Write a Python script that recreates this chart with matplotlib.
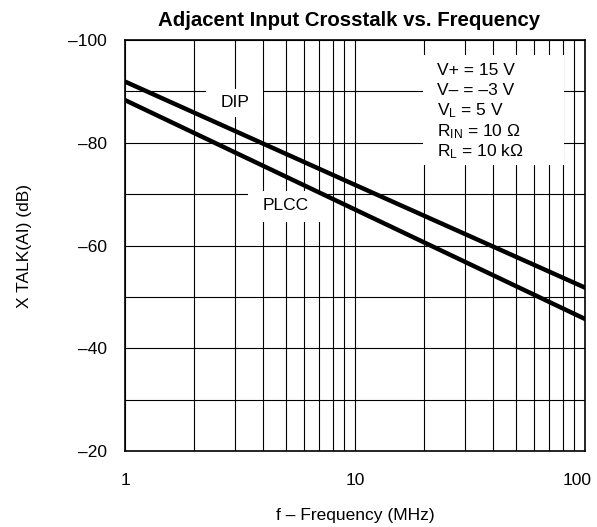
import numpy as np
import matplotlib
matplotlib.use('Agg')
import matplotlib.pyplot as plt
import matplotlib.transforms as mtransforms
from matplotlib.patches import Rectangle
from matplotlib.ticker import LogLocator, NullFormatter, FixedLocator

plt.rcParams['font.family'] = ['Liberation Sans', 'DejaVu Sans']
plt.rcParams['mathtext.default'] = 'regular'

# curves (straight lines on log x)
freq = [1, 10, 100]
dip = [-91.9, -71.8, -51.8]
plcc = [-88.3, -67.0, -45.7]

y_ticks = [-100, -90, -80, -70, -60, -50, -40, -30, -20]
y_labels = ['–100', '', '–80', '', '–60', '', '–40', '', '–20']
x_ticks = [1, 10, 100]
x_labels = ['1', '10', '100']

conditions = ['V+ = 15 V', 'V– = –3 V', 'V$_L$ = 5 V',
              'R$_{IN}$ = 10 Ω', 'R$_L$ = 10 kΩ']

fig = plt.figure(figsize=(5.97, 5.27), dpi=100)
ax = fig.add_axes([0.2094, 0.1442, 0.7705, 0.7799])

ax.set_xscale('log')
ax.set_xlim(1, 100)
ax.set_ylim(-20, -100)

ax.xaxis.set_major_locator(FixedLocator(x_ticks))
ax.set_xticklabels(x_labels)
ax.xaxis.set_minor_locator(LogLocator(base=10, subs=np.arange(2, 10)))
ax.xaxis.set_minor_formatter(NullFormatter())
ax.set_yticks(y_ticks)
ax.set_yticklabels(y_labels)

ax.tick_params(which='both', length=0, labelsize=12.5)
ax.tick_params(axis='x', pad=16)
ax.tick_params(axis='y', pad=13)
ax.grid(which='both', color='black', linewidth=0.8)
for s in ax.spines.values():
    s.set_linewidth(1.2)

# nudge the "100" label so it stays inside the figure
last = ax.get_xticklabels()[-1]
last.set_transform(last.get_transform() +
                   mtransforms.ScaledTranslation(-6 / 72, 0, fig.dpi_scale_trans))

ax.plot(freq, dip, color='black', linewidth=3.2, solid_capstyle='round', zorder=4)
ax.plot(freq, plcc, color='black', linewidth=3.2, solid_capstyle='round', zorder=4)

# white patches that break the grid behind the labels
ax.add_patch(Rectangle((0.176, 0.813), 0.124, 0.068, transform=ax.transAxes,
                       facecolor='white', edgecolor='none', zorder=3))
ax.add_patch(Rectangle((0.267, 0.557), 0.166, 0.076, transform=ax.transAxes,
                       facecolor='white', edgecolor='none', zorder=3))
ax.add_patch(Rectangle((0.648, 0.696), 0.306, 0.268, transform=ax.transAxes,
                       facecolor='white', edgecolor='none', zorder=3))

ax.text(3.01, -87.9, 'DIP', fontsize=12.5, ha='center', va='center', zorder=5)
ax.text(5.01, -67.7, 'PLCC', fontsize=12.5, ha='center', va='center', zorder=5)

for i, line in enumerate(conditions):
    ax.text(0.678, 0.927 - i * 0.0497, line, transform=ax.transAxes, fontsize=12.5,
            ha='left', va='center', zorder=5)

ax.set_title('Adjacent Input Crosstalk vs. Frequency', fontsize=14.7, fontweight='bold',
             pad=10, x=0.486)
ax.set_xlabel('f – Frequency (MHz)', fontsize=12.5, labelpad=14)
ax.set_ylabel('X TALK(AI) (dB)', fontsize=12.5, labelpad=26)

fig.savefig('out.png', dpi=100)
